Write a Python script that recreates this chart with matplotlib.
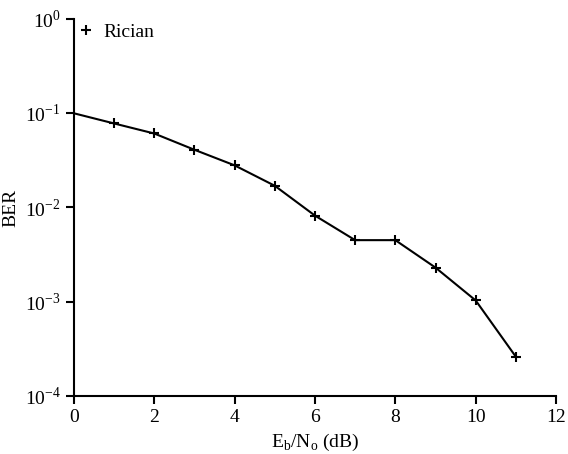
import matplotlib
matplotlib.use('Agg')
import matplotlib.pyplot as plt
from matplotlib.ticker import FixedLocator, NullLocator

plt.rcParams['font.family'] = ['Liberation Serif', 'DejaVu Serif']
plt.rcParams['mathtext.fontset'] = 'custom'
plt.rcParams['mathtext.rm'] = 'Liberation Serif'

# Eb/No (dB) and BER
ebno = [0, 1, 2, 3, 4, 5, 6, 7, 8, 9, 10, 11]
ber = [0.1, 0.078, 0.061, 0.041, 0.028, 0.017, 0.0082, 0.0045, 0.0045,
       0.0023, 0.00103, 0.00026]

fig = plt.figure(figsize=(5.68, 4.54), dpi=100)
ax = fig.add_axes([0.130, 0.128, 0.849, 0.830])

ax.plot(ebno, ber, color='black', linewidth=1.5)
ax.plot(ebno[1:], ber[1:], linestyle='none', marker='+', markersize=7,
        markeredgewidth=1.5, color='black', label='Rician')

ax.set_yscale('log')
ax.set_ylim(1e-4, 1)
ax.set_xlim(0, 12)
ax.set_xticks([0, 2, 4, 6, 8, 10, 12])
ax.yaxis.set_major_locator(FixedLocator([1e-4, 1e-3, 1e-2, 1e-1, 1]))
ax.yaxis.set_minor_locator(NullLocator())
ax.set_yticklabels(['$10^{-4}$', '$10^{-3}$', '$10^{-2}$', '$10^{-1}$', '$10^{0}$'])

for s in ['top', 'right']:
    ax.spines[s].set_visible(False)
for s in ['left', 'bottom']:
    ax.spines[s].set_linewidth(1.5)
ax.tick_params(direction='out', width=1.5, length=6, labelsize=14)

ax.set_xlabel('E$_\\mathrm{b}$/N$_\\mathrm{o}$ (dB)', fontsize=14)
ax.set_ylabel('BER', fontsize=14)

ax.legend(loc='upper left', bbox_to_anchor=(0.0, 1.0), borderaxespad=0,
          borderpad=0.2, frameon=False, fontsize=14, handlelength=0.8,
          handletextpad=0.5)

fig.savefig('out.png')
